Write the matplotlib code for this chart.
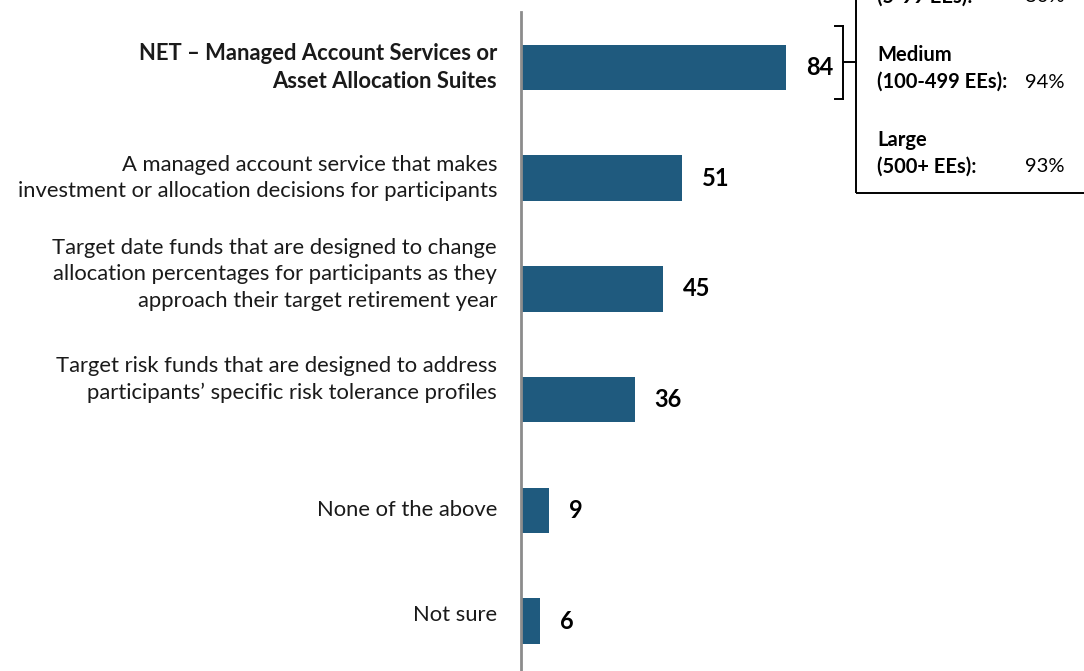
import matplotlib.pyplot as plt
import matplotlib.transforms as mtransforms
from matplotlib.lines import Line2D
from matplotlib.patches import Rectangle

plt.rcParams['font.family'] = ['Lato', 'DejaVu Sans']

categories = [
    'NET \u2013 Managed Account Services or\nAsset Allocation Suites',
    'A managed account service that makes\ninvestment or allocation decisions for participants',
    'Target date funds that are designed to change\nallocation percentages for participants as they\napproach their target retirement year',
    'Target risk funds that are designed to address\nparticipants\u2019 specific risk tolerance profiles',
    'None of the above',
    'Not sure',
]
values = [84, 51, 45, 36, 9, 6]

size_groups = ['Small\n(5-99 EEs):', 'Medium\n(100-499 EEs):', 'Large\n(500+ EEs):']
size_values = ['80%', '94%', '93%']

bar_color = '#1f5a7e'
W, H = 1084, 671
fig = plt.figure(figsize=(W / 100, H / 100), dpi=100)

# axes: zero line at x=521px, top at 12px
ax = fig.add_axes([521 / W, 0, 1 - 521 / W, 1 - 12 / H])
ypos = list(range(len(values)))
ax.barh(ypos, values, height=0.41, color=bar_color)
ax.set_xlim(0, (W - 521) / 3.155)
ax.set_ylim(5.45, -0.5)
ax.set_xticks([])
ax.set_yticks([])
for s in ['top', 'right', 'bottom']:
    ax.spines[s].set_visible(False)
ax.spines['left'].set_color('#8c8c8c')
ax.spines['left'].set_linewidth(2)

# value labels
for y, v in zip(ypos, values):
    ax.annotate(str(v), (v, y), xytext=(20, 0), textcoords='offset pixels',
                ha='left', va='center', fontsize=17, fontweight='bold', color='black')

# category labels
label_shift = [0, 0, -0.13, -0.18, 0, -0.06]
trans = mtransforms.blended_transform_factory(fig.transFigure, ax.transData)
for i, (c, dy) in enumerate(zip(categories, label_shift)):
    ax.text(497 / W, ypos[i] + dy, c, transform=trans, ha='right', va='center',
            fontsize=15.8, linespacing=1.38, color='#1a1a1a',
            fontweight='bold' if i == 0 else 'normal')

# bracket next to the NET bar
def fx(px):
    return px / W

def fy(py):
    return 1 - py / H

lw = 1.4
for xs, ys in [([835, 843], [26, 26]), ([843, 843], [26, 99]), ([835, 843], [99, 99]),
               ([843, 856], [62, 62])]:
    fig.add_artist(Line2D([fx(x) for x in xs], [fy(y) for y in ys],
                          color='black', lw=lw, transform=fig.transFigure))

# box with company sizes
fig.add_artist(Rectangle((fx(856), fy(193)), fx(W + 10) - fx(856), fy(-20) - fy(193),
                         fill=False, edgecolor='black', lw=lw, transform=fig.transFigure))
first_lines = [-30, 55, 140]
for g, v, top in zip(size_groups, size_values, first_lines):
    fig.text(fx(877), fy(top + 13.5), g, ha='left', va='center', fontsize=14.5,
             fontweight='bold', linespacing=1.45)
    fig.text(fx(1025), fy(top + 27), v, ha='left', va='center', fontsize=14.5)

fig.savefig('out.png', dpi=100)
